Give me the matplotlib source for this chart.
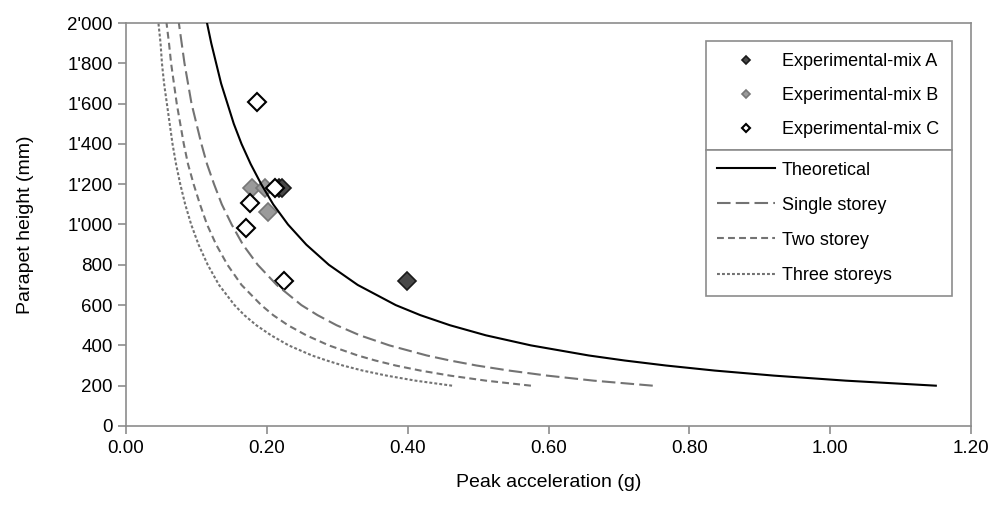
import matplotlib.pyplot as plt
from matplotlib.ticker import FuncFormatter

plt.rcParams['font.family'] = ['Liberation Sans', 'DejaVu Sans']

heights = [200, 225, 250, 275, 300, 325, 350, 400, 450, 500, 550, 600, 700, 800, 900,
           1000, 1100, 1200, 1300, 1400, 1500, 1600, 1700, 1800, 1900, 2000]
theoretical = [1.15, 1.022, 0.92, 0.836, 0.767, 0.708, 0.657, 0.575, 0.511, 0.46, 0.418, 0.383, 0.329,
               0.288, 0.256, 0.23, 0.209, 0.192, 0.177, 0.164, 0.153, 0.144, 0.135, 0.128, 0.121, 0.115]
single_storey = [0.748, 0.664, 0.598, 0.544, 0.498, 0.46, 0.427, 0.374, 0.332, 0.299, 0.272, 0.249, 0.214,
                 0.187, 0.166, 0.150, 0.136, 0.125, 0.115, 0.107, 0.100, 0.093, 0.088, 0.083, 0.079, 0.075]
two_storey = [0.575, 0.511, 0.46, 0.418, 0.383, 0.354, 0.329, 0.288, 0.256, 0.23, 0.209, 0.192, 0.164,
              0.144, 0.128, 0.115, 0.105, 0.096, 0.088, 0.082, 0.077, 0.072, 0.068, 0.064, 0.061, 0.0575]
three_storeys = [0.463, 0.411, 0.37, 0.336, 0.308, 0.285, 0.264, 0.231, 0.206, 0.185, 0.168, 0.154, 0.132,
                 0.116, 0.103, 0.0925, 0.084, 0.077, 0.071, 0.066, 0.062, 0.058, 0.054, 0.051, 0.049, 0.046]

# Experimental results
mix_a_acc = [0.217, 0.222, 0.399]
mix_a_h = [1180, 1180, 720]
mix_b_acc = [0.179, 0.197, 0.201]
mix_b_h = [1183, 1180, 1064]
mix_c_acc = [0.186, 0.212, 0.176, 0.171, 0.225]
mix_c_h = [1608, 1180, 1105, 981, 720]

fig = plt.figure(figsize=(9.94, 5.07), dpi=100)
ax = fig.add_axes([0.1268, 0.1598, 0.8501, 0.7948])

ms = 8.7
pa, = ax.plot(mix_a_acc, mix_a_h, 'D', ms=ms, mfc='#484848', mec='#1a1a1a', mew=1.2, ls='none', zorder=3)
pb, = ax.plot(mix_b_acc, mix_b_h, 'D', ms=ms, mfc='#9a9a9a', mec='#777777', mew=1.2, ls='none', zorder=3)
pc, = ax.plot(mix_c_acc, mix_c_h, 'D', ms=ms, mfc='white', mec='black', mew=1.5, ls='none', zorder=3)

lw = 1.5
gray = '#737373'
lt, = ax.plot(theoretical, heights, color='black', lw=lw, zorder=4)
l1, = ax.plot(single_storey, heights, color=gray, lw=lw, dashes=(6.5, 2.5), zorder=4)
l2, = ax.plot(two_storey, heights, color=gray, lw=lw, dashes=(3.3, 2.0), zorder=4)
l3, = ax.plot(three_storeys, heights, color=gray, lw=lw, dashes=(1.4, 1.0), zorder=4)

ax.set_xlim(0, 1.2)
ax.set_ylim(0, 2000)
ax.set_xticks([0, 0.2, 0.4, 0.6, 0.8, 1.0, 1.2])
ax.set_yticks(range(0, 2001, 200))
ax.xaxis.set_major_formatter(FuncFormatter(lambda v, p: f"{v:.2f}"))
ax.yaxis.set_major_formatter(FuncFormatter(lambda v, p: f"{int(v):,}".replace(",", "'")))

for s in ax.spines.values():
    s.set_color('#8c8c8c')
    s.set_linewidth(1.2)
ax.tick_params(axis='both', colors='#8c8c8c', labelcolor='black', length=6, width=1.2,
               labelsize=13.5, direction='out')
ax.tick_params(axis='x', pad=4)

ax.set_xlabel('Peak acceleration (g)', fontsize=14, labelpad=12)
ax.set_ylabel('Parapet height (mm)', fontsize=14, labelpad=24)

leg_kw = dict(loc='upper left', mode='expand', borderaxespad=0, fontsize=13,
              frameon=True, fancybox=False, framealpha=1, edgecolor='#8c8c8c',
              handlelength=3.2, handletextpad=0.35, borderpad=0.65)
leg1 = ax.legend([pa, pb, pc], ['Experimental-mix A', 'Experimental-mix B', 'Experimental-mix C'],
                 bbox_to_anchor=(0.686, 0, 0.2915, 0.955), markerscale=0.5,
                 labelspacing=0.95, **leg_kw)
leg1.get_frame().set_linewidth(1.2)
ax.add_artist(leg1)
leg2 = ax.legend([lt, l1, l2, l3], ['Theoretical', 'Single storey', 'Two storey', 'Three storeys'],
                 bbox_to_anchor=(0.686, 0, 0.2915, 0.685), labelspacing=1.0, **leg_kw)
leg2.get_frame().set_linewidth(1.2)

fig.savefig('out.png', dpi=100)
